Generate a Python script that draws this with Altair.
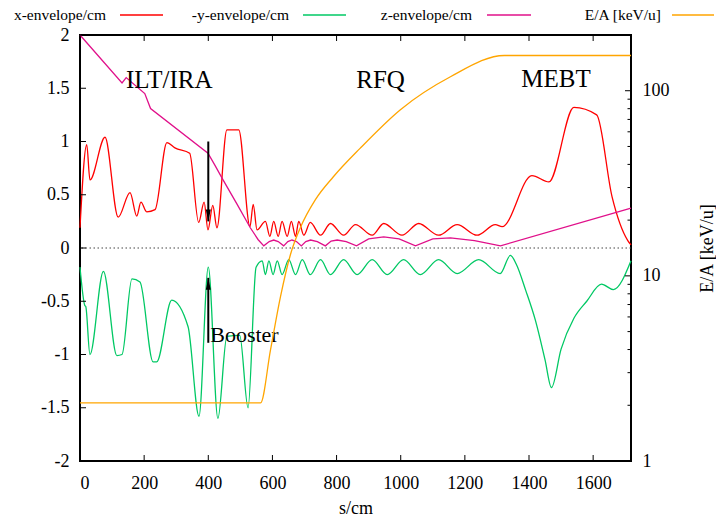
import altair as alt
import pandas as pd

# ---------------- data ----------------
x_s = [0, 21, 31, 78, 119, 156, 177, 190, 208, 234, 271, 296, 342, 370, 387, 399, 414, 427,
       458, 495, 530, 540, 552, 578, 592, 604, 618, 630, 646, 659, 672, 682, 698, 718, 750,
       781, 822, 859, 911, 947, 1004, 1056, 1118, 1176, 1238, 1295, 1316, 1409, 1462, 1540,
       1611, 1659, 1708, 1718]
x_v = [0.19, 0.97, 0.64, 1.04, 0.29, 0.52, 0.30, 0.43, 0.34, 0.36, 0.99, 0.94, 0.89, 0.24,
       0.43, 0.17, 0.40, 0.19, 1.11, 1.11, 0.20, 0.41, 0.17, 0.25, 0.11, 0.25, 0.11, 0.25,
       0.11, 0.25, 0.11, 0.25, 0.12, 0.24, 0.12, 0.23, 0.12, 0.22, 0.12, 0.23, 0.12, 0.23,
       0.12, 0.22, 0.12, 0.22, 0.20, 0.68, 0.62, 1.32, 1.25, 0.48, 0.07, 0.03]

y_s = [0, 15, 18, 31, 73, 115, 131, 162, 187, 228, 239, 286, 337, 371, 400, 430, 458, 498,
       524, 549, 568, 578, 589, 602, 615, 630, 651, 672, 693, 718, 750, 781, 822, 864, 911,
       958, 1009, 1061, 1118, 1176, 1243, 1310, 1342, 1360, 1390, 1420, 1450, 1470, 1500,
       1540, 1580, 1626, 1663, 1718]
y_v = [-0.18, -0.54, -0.55, -1.00, -0.22, -1.01, -1.00, -0.29, -0.32, -1.07, -1.07, -0.49,
       -0.74, -1.58, -0.18, -1.60, -0.83, -0.82, -1.50, -0.18, -0.12, -0.25, -0.12, -0.25,
       -0.12, -0.25, -0.11, -0.25, -0.11, -0.25, -0.11, -0.25, -0.11, -0.25, -0.11, -0.25,
       -0.11, -0.25, -0.11, -0.24, -0.11, -0.24, -0.07, -0.15, -0.40, -0.68, -1.05, -1.31,
       -0.95, -0.66, -0.50, -0.34, -0.39, -0.12]

z_s = [0, 131, 144, 202, 220, 399, 420, 446, 490, 531, 555, 573, 590, 604, 618, 635, 648,
       661, 675, 690, 704, 719, 740, 765, 783, 802, 830, 862, 900, 947, 995, 1046, 1100,
       1155, 1230, 1311, 1718]
z_v = [2.0, 1.55, 1.60, 1.45, 1.31, 0.89, 0.78, 0.64, 0.41, 0.19, 0.08, 0.02, 0.06, 0.075,
       0.06, 0.02, 0.06, 0.075, 0.06, 0.02, 0.06, 0.075, 0.06, 0.02, 0.065, 0.075, 0.06,
       0.02, 0.085, 0.105, 0.085, 0.02, 0.085, 0.095, 0.07, 0.02, 0.375]

e_s = [0, 563, 594, 625, 656, 687, 734, 790, 874, 999, 1155, 1323, 1718]
e_v = [2.06, 2.06, 3.98, 7.7, 13.0, 18.2, 25.8, 34.3, 49, 79, 119, 155, 155]

series_names = ["x-envelope/cm", "-y-envelope/cm", "z-envelope/cm", "E/A [keV/u]"]
series_colors = ["#ff0000", "#00c864", "#e0108a", "#ffa500"]

x_ticks = [0, 200, 400, 600, 800, 1000, 1200, 1400, 1600]
y_ticks = [-2, -1.5, -1, -0.5, 0, 0.5, 1, 1.5, 2]
e_major = [1, 10, 100]
e_minor = [2, 3, 4, 5, 6, 7, 8, 9, 20, 30, 40, 50, 60, 70, 80, 90, 200]

region_labels = ["ILT/IRA", "RFQ", "MEBT"]
region_s = [278, 937, 1484]
region_v = [1.5, 1.5, 1.51]

arrow_s = [400, 400]
arrow_from = [1.0, -0.89]
arrow_to = [0.25, -0.28]
booster_s, booster_v = 406, -0.88

# ---------------- layout ----------------
W, H = 551, 426
FONT = "Liberation Serif"

xs = alt.Scale(domain=[0, 1718], nice=False, zero=False)
yl = alt.Scale(domain=[-2, 2], nice=False, zero=False)
yr = alt.Scale(type="log", domain=[1, 200], nice=False)

xy_env = pd.concat([
    pd.DataFrame({"s": x_s, "v": x_v, "series": series_names[0]}),
    pd.DataFrame({"s": y_s, "v": y_v, "series": series_names[1]}),
], ignore_index=True)
z_env = pd.DataFrame({"s": z_s, "v": z_v, "series": series_names[2]})
energy = pd.DataFrame({"s": e_s, "e": e_v})

x_axis = alt.Axis(values=x_ticks, labelExpr="'' + datum.value", title="s/cm",
                  ticks=False, domain=False, grid=False, labelFont=FONT, labelFontSize=18,
                  labelPadding=13, labelColor="black", titleFont=FONT, titleFontSize=18,
                  titleFontWeight="normal", titleColor="black", titlePadding=7)
yl_axis = alt.Axis(orient="left", values=y_ticks, labelExpr="'' + datum.value", title="",
                   ticks=False, domain=False, grid=False, labelFont=FONT, labelFontSize=18,
                   labelPadding=11, labelColor="black")
yr_axis = alt.Axis(orient="right", values=e_major, labelExpr="'' + datum.value",
                   title="E/A [keV/u]", ticks=False, domain=False, grid=False,
                   labelFont=FONT, labelFontSize=18, labelPadding=11, labelColor="black",
                   titleFont=FONT, titleFontSize=18, titleFontWeight="normal",
                   titleColor="black", titleAngle=270, titleX=76, titleY=H / 2,
                   titleAlign="center", titleBaseline="middle")


def X(field="s"):
    return alt.X(f"{field}:Q", scale=xs, axis=x_axis)


def YL(field="v"):
    return alt.Y(f"{field}:Q", scale=yl, axis=yl_axis)


def YR(field="e"):
    return alt.Y(f"{field}:Q", scale=yr, axis=yr_axis)


color_enc = alt.Color("series:N", scale=alt.Scale(domain=series_names, range=series_colors),
                      legend=None)
xy_lines = alt.Chart(xy_env).mark_line(strokeWidth=1.3, interpolate="monotone").encode(
    x=X(), y=YL(), color=color_enc)
z_line = alt.Chart(z_env).mark_line(strokeWidth=1.3, interpolate="linear").encode(
    x=X(), y=YL(), color=color_enc)

zero = alt.Chart(pd.DataFrame({"v": [0]})).mark_rule(
    color="#444444", strokeWidth=1, strokeDash=[1.5, 2.5]
).encode(y=YL())

yt = alt.Chart(pd.DataFrame({"v": y_ticks})).mark_rule(color="black", strokeWidth=1).encode(
    y=YL(), x=alt.value(0), x2=alt.value(6))
xt_df = pd.DataFrame({"s": x_ticks})
xt_bot = alt.Chart(xt_df).mark_rule(color="black", strokeWidth=1).encode(
    x=X(), y=alt.value(H), y2=alt.value(H - 6))
xt_top = alt.Chart(xt_df).mark_rule(color="black", strokeWidth=1).encode(
    x=X(), y=alt.value(0), y2=alt.value(6))

arr_df = pd.DataFrame({"s": arrow_s, "v": arrow_from, "b": arrow_to})
shaft = alt.Chart(arr_df).mark_rule(color="black", strokeWidth=2).encode(
    x=X(), y=YL(), y2="b:Q")
head_down = alt.Chart(arr_df.iloc[[0]]).mark_point(
    shape="M-0.25,-1.2L0,0L0.25,-1.2Z", filled=True, color="black", opacity=1, size=400
).encode(x=X(), y=YL("b"))
head_up = alt.Chart(arr_df.iloc[[1]]).mark_point(
    shape="M-0.25,1.2L0,0L0.25,1.2Z", filled=True, color="black", opacity=1, size=400
).encode(x=X(), y=YL("b"))

reg = alt.Chart(pd.DataFrame({"s": region_s, "v": region_v, "t": region_labels})).mark_text(
    font=FONT, fontSize=25, align="center", baseline="alphabetic", color="black"
).encode(x=X(), y=YL(), text="t:N")
boost = alt.Chart(pd.DataFrame({"s": [booster_s], "v": [booster_v], "t": ["Booster"]})).mark_text(
    font=FONT, fontSize=22, align="left", baseline="alphabetic", color="black"
).encode(x=X(), y=YL(), text="t:N")

# hand-made gnuplot-style key above the plot (text, then line sample)
key_text_right = [26, 209, 392, 581]
key_sample = [(40, 83), (223, 266), (407, 451), (592, 634)]
one = pd.DataFrame({"k": [0]})
key_layers = []
for name, col, tr, (a, b) in zip(series_names, series_colors, key_text_right, key_sample):
    key_layers.append(alt.Chart(one).mark_text(
        font=FONT, fontSize=15.5, align="right", baseline="alphabetic", color="black"
    ).encode(x=alt.value(tr), y=alt.value(-15), text=alt.value(name)))
    key_layers.append(alt.Chart(one).mark_rule(color=col, strokeWidth=1.3).encode(
        x=alt.value(a), x2=alt.value(b), y=alt.value(-20)))

left = alt.layer(zero, xy_lines, z_line, yt, xt_bot, xt_top, shaft, head_down, head_up,
                 reg, boost, *key_layers)

orange = alt.Chart(energy).mark_line(color=series_colors[3], strokeWidth=1.3,
                                     interpolate="monotone").encode(x=X(), y=YR())
emaj = alt.Chart(pd.DataFrame({"e": e_major})).mark_rule(color="black", strokeWidth=1).encode(
    y=YR(), x=alt.value(W), x2=alt.value(W - 6))
emin = alt.Chart(pd.DataFrame({"e": e_minor})).mark_rule(color="black", strokeWidth=1).encode(
    y=YR(), x=alt.value(W), x2=alt.value(W - 3.5))
right = alt.layer(orange, emaj, emin)

chart = alt.layer(left, right).resolve_scale(y="independent").properties(
    width=W, height=H,
    padding={"left": 80, "top": 35, "right": 716 - 80 - W, "bottom": 519 - 35 - H},
    autosize=alt.AutoSizeParams(type="none"),
    background="white",
).configure_view(stroke="black", strokeWidth=2)

chart.save("out.html", embed_options={"renderer": "svg", "actions": False})
